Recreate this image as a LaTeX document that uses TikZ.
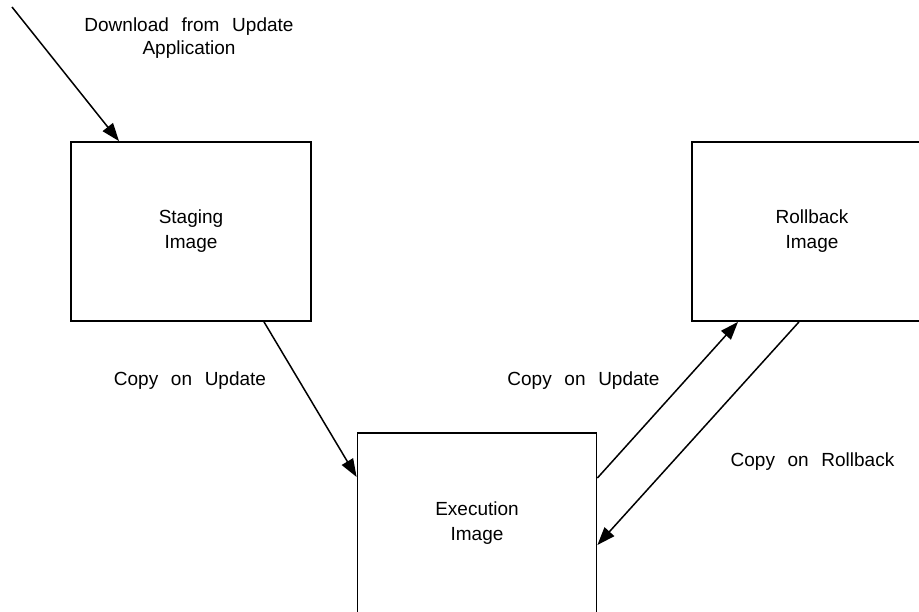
\documentclass[tikz,border=0pt]{standalone}
\usepackage{fontspec}
\setmainfont{Liberation Sans}[WordSpace=2.4]
\usetikzlibrary{arrows.meta}
\begin{document}
\begin{tikzpicture}[x=1pt,y=-1pt,
  imagebox/.style={draw, line width=1.8pt, minimum width=240pt, minimum height=179pt,
    align=center, inner sep=0pt, font=\fontsize{19}{25}\selectfont},
  conn/.style={line width=1.5pt, -{Triangle[length=18pt,width=13pt]}},
  lbl/.style={inner sep=0pt, align=center, font=\fontsize{19}{23}\selectfont}]
  \useasboundingbox (0,0) rectangle (919,612);
  \clip (0,0) rectangle (919,612);

  % memory images
  \node[imagebox] (staging) at (191,231.5) {Staging\\Image};
  \node[imagebox] (rollback) at (812,231.5) {Rollback\\Image};
  \node[imagebox, minimum width=239pt, minimum height=180pt] (exec) at (477,523) {Execution\\Image};

  % incoming download
  \coordinate (src) at (12,7);
  \draw[conn] (src) -- ([xshift=-72pt]staging.north);

  % copy paths
  \draw[conn] ([xshift=73pt]staging.south) -- ([yshift=46pt]exec.west);
  \draw[conn] ([yshift=45pt]exec.east) -- ([xshift=-74pt]rollback.south);
  \draw[conn] ([xshift=-13pt]rollback.south) -- ([yshift=-22pt]exec.east);

  % labels
  \node[lbl] (ldl) at (189,38) {Download from Update\\Application};
  \node[lbl] (lcu1) at (190,381) {Copy on Update};
  \node[lbl] (lcu2) at (583.5,381) {Copy on Update};
  \node[lbl] (lcr) at (812.5,462) {Copy on Rollback};
\end{tikzpicture}
\end{document}
